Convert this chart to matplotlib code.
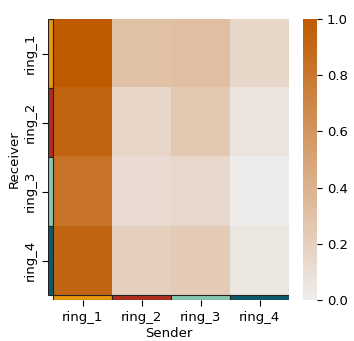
import matplotlib
matplotlib.use("Agg")
import matplotlib.pyplot as plt
import numpy as np
from matplotlib.colors import LinearSegmentedColormap

# ring labels and their category colours
rings = ["ring_1", "ring_2", "ring_3", "ring_4"]
ring_colors = ["#e8980a", "#b02e20", "#86c8ae", "#0d5a6c"]

# rows = receiver, cols = sender
row_1 = [1.00, 0.30, 0.32, 0.15]
row_2 = [0.93, 0.16, 0.25, 0.07]
row_3 = [0.83, 0.12, 0.14, 0.01]
row_4 = [0.92, 0.20, 0.23, 0.05]
values = np.array([row_1, row_2, row_3, row_4])

cmap = LinearSegmentedColormap.from_list("ring", ["#efeded", "#bf5a00"])

W, H = 354, 341
fig = plt.figure(figsize=(W / 100, H / 100), dpi=100)
ax = fig.add_axes([48 / W, (H - 300) / H, (289 - 48) / W, (300 - 19) / H])

im = ax.imshow(values, cmap=cmap, vmin=0, vmax=1, extent=[0, 4, 4, 0],
               aspect="auto", interpolation="nearest")

# side strips marking the ring category
sw = 0.085
sh = 0.072
for i, c in enumerate(ring_colors):
    ax.barh(i + 0.5, sw, height=1, left=-sw, color=c, edgecolor="#222222", linewidth=0.8)
    ax.bar(i + 0.5, sh, width=1, bottom=4, color=c, edgecolor="#222222", linewidth=0.8)

ax.set_xlim(-sw, 4)
ax.set_ylim(4 + sh, 0)
for s in ax.spines.values():
    s.set_visible(False)

ax.set_xticks(np.arange(4) + 0.5)
ax.set_xticklabels(rings, fontsize=9.5)
ax.set_yticks(np.arange(4) + 0.5)
ax.set_yticklabels(rings, fontsize=9.5, rotation=90, va="center")
ax.tick_params(length=4, pad=4)
ax.set_xlabel("Sender", fontsize=9.5, labelpad=2)
ax.set_ylabel("Receiver", fontsize=9.5, labelpad=2)

cax = fig.add_axes([303 / W, (H - 300) / H, 14 / W, (300 - 19) / H])
cb = fig.colorbar(im, cax=cax)
cb.outline.set_visible(False)
cb.set_ticks([0, 0.2, 0.4, 0.6, 0.8, 1.0])
cb.ax.tick_params(labelsize=9.5)

fig.savefig("out.png", dpi=100)
